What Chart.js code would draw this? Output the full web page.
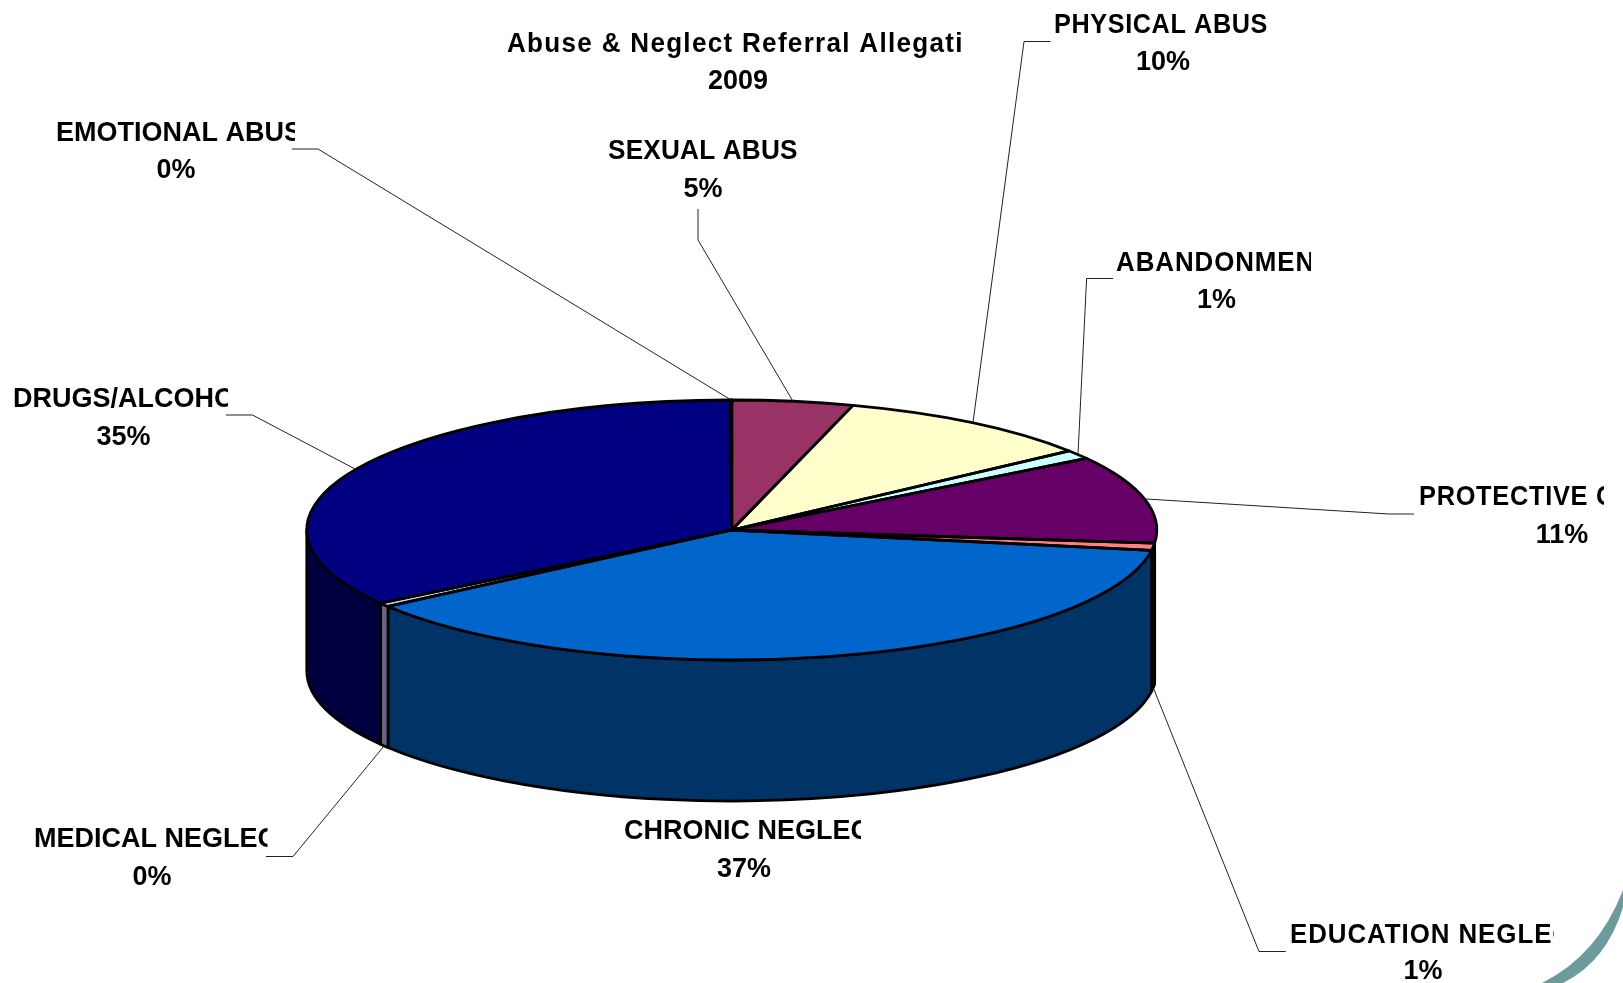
<!DOCTYPE html>
<html><head><meta charset="utf-8">
<style>html,body{margin:0;padding:0;background:#fff;overflow:hidden}#w{position:relative;width:1623px;height:983px}</style>
<script src="https://cdn.jsdelivr.net/npm/chart.js@4"></script>
</head><body><div id="w"><canvas id="c" width="1623" height="983"></canvas></div>
<script>
const categories = ['SEXUAL ABUSE','PHYSICAL ABUSE','ABANDONMENT','PROTECTIVE CUSTODY','EDUCATION NEGLECT','CHRONIC NEGLECT','MEDICAL NEGLECT','DRUGS/ALCOHOL','EMOTIONAL ABUSE'];
const values = [4.6,10.0,1.1,10.9,0.9,37.49,0.49,34.46,0.05];
const percentLabels = ['5%','10%','1%','11%','1%','37%','0%','35%','0%'];
const topColors = ['#993366','#FFFFCC','#CCFFFF','#660066','#FF8080','#0066CC','#CCCCFF','#000080','#9999FF'];
const wallColors = ['#4D1A33','#808066','#668080','#330033','#400020','#003366','#666680','#000040','#4D4D80'];
const titleLines = ['Abuse & Neglect Referral Allegations','2009'];

// Projection of the flat pie into the tilted ellipse
const view = {cx:731.8, cy:530, rx:425, ry:130, depth:141};
// Text boxes: left, clip right, name baseline, percent centre x, percent baseline, x-squeeze, spacing, leader elbow points
const labelBoxes = [
 {l:608,r:797,y:159,pc:703,py:197,sx:0.935,ls:0.2,lead:[[698,209],[698,240]]},
 {l:1054,r:1267,y:33,pc:1163,py:70,sx:0.9,ls:0.7,lead:[[1050.5,41.5],[1024,41.5]]},
 {l:1116,r:1311,y:271,pc:1216.5,py:308,sx:0.925,ls:1,lead:[[1113,278.5],[1086.6,278.5]]},
 {l:1419,r:1604,y:505,pc:1562,py:543,sx:0.905,ls:0.8,lead:[[1414,514],[1389,514]]},
 {l:1290,r:1554,y:943,pc:1423,py:979,sx:0.925,ls:1,lead:[[1285.7,951.5],[1259,951.5]]},
 {l:624,r:861,y:839,pc:744,py:877,sx:0.964,ls:0,lead:null},
 {l:34,r:267.5,y:847,pc:152,py:885,sx:0.964,ls:0,lead:[[266,856.5],[293,856.5]]},
 {l:13,r:228,y:407,pc:123.5,py:445,sx:0.964,ls:0,lead:[[226,415],[252.5,415]]},
 {l:56,r:295,y:141,pc:176,py:178,sx:0.964,ls:0,lead:[[292,149],[318,149]]}
];
const FONT='bold 28px "Liberation Sans", Arial, sans-serif';

function sector(ctx,a0,a1,dy){
  ctx.beginPath();
  ctx.moveTo(view.cx,view.cy+dy);
  ctx.ellipse(view.cx,view.cy+dy,view.rx,view.ry,0,a0,a1);
  ctx.closePath();
}
function wallPath(ctx,a0,a1){
  ctx.beginPath();
  ctx.ellipse(view.cx,view.cy,view.rx,view.ry,0,a0,a1);
  ctx.ellipse(view.cx,view.cy+view.depth,view.rx,view.ry,0,a1,a0,true);
  ctx.closePath();
}
const tau=Math.PI*2;
function frontPart(a0,a1){ // clip an arc span to the visible front half [0,PI]
  const k=Math.floor(a0/tau);
  a0-=k*tau; a1-=k*tau;
  const s=Math.max(a0,0), e=Math.min(a1,Math.PI);
  return e>s?[s,e]:null;
}
function squeezed(ctx,text,x,y,sx,align){
  ctx.save();
  ctx.translate(x,y); ctx.scale(sx,1);
  ctx.textAlign=align;
  ctx.fillText(text,0,0);
  ctx.restore();
}
const pie3d={
  id:'pie3d',
  beforeDatasetsDraw(chart){
    const ctx=chart.ctx, arcs=chart.getDatasetMeta(0).data;
    // side walls under the top face
    ctx.save();
    ctx.lineWidth=2.8; ctx.strokeStyle='#000'; ctx.lineJoin='round';
    arcs.forEach((a,i)=>{
      const p=frontPart(a.startAngle,a.endAngle);
      if(!p) return;
      wallPath(ctx,p[0],p[1]);
      ctx.fillStyle=wallColors[i]; ctx.fill(); ctx.stroke();
    });
    ctx.restore();
    // the library then fills the top face through this projection
    const a=arcs[0];
    ctx.save();
    ctx.translate(view.cx,view.cy);
    ctx.scale(view.rx/a.outerRadius,view.ry/a.outerRadius);
    ctx.translate(-a.x,-a.y);
  },
  afterDatasetsDraw(chart){
    const ctx=chart.ctx, arcs=chart.getDatasetMeta(0).data;
    ctx.restore();
    ctx.save();
    ctx.lineWidth=2.8; ctx.strokeStyle='#000'; ctx.lineJoin='round';
    arcs.forEach(a=>{ sector(ctx,a.startAngle,a.endAngle,0); ctx.stroke(); });
    ctx.restore();
    // leaders run from the middle of each slice
    ctx.save();
    ctx.strokeStyle='#222'; ctx.lineWidth=1;
    arcs.forEach((a,i)=>{
      const b=labelBoxes[i];
      if(!b.lead) return;
      const m=(a.startAngle+a.endAngle)/2;
      const sinM=Math.sin(m);
      const x=view.cx+view.rx*Math.cos(m);
      const y=view.cy+view.ry*sinM+(sinM>0?view.depth:0);
      ctx.beginPath();
      ctx.moveTo(b.lead[0][0],b.lead[0][1]);
      ctx.lineTo(b.lead[1][0],b.lead[1][1]);
      ctx.lineTo(x,y);
      ctx.stroke();
    });
    ctx.restore();
  },
  afterDraw(chart){
    const ctx=chart.ctx;
    ctx.save();
    ctx.fillStyle='#000'; ctx.font=FONT; ctx.textBaseline='alphabetic';
    categories.forEach((name,i)=>{
      const b=labelBoxes[i];
      ctx.save();
      ctx.beginPath(); ctx.rect(b.l-2,b.y-30,b.r-b.l+2,42); ctx.clip();
      ctx.letterSpacing=b.ls+'px';
      squeezed(ctx,name,b.l,b.y,b.sx,'left');
      ctx.restore();
      squeezed(ctx,percentLabels[i],b.pc,b.py,0.964,'center');
    });
    // title
    ctx.save();
    ctx.beginPath(); ctx.rect(505,20,459,45); ctx.clip();
    ctx.letterSpacing='1.4px';
    squeezed(ctx,titleLines[0],507,52,0.93,'left');
    ctx.restore();
    squeezed(ctx,titleLines[1],738,89,0.964,'center');
    ctx.restore();
    // slide decoration in the corner
    ctx.save();
    ctx.fillStyle='#6A9C9C';
    ctx.beginPath();
    ctx.moveTo(1623,890);
    ctx.quadraticCurveTo(1598,955,1542,983);
    ctx.lineTo(1563,983);
    ctx.quadraticCurveTo(1607,961,1623,907);
    ctx.closePath(); ctx.fill();
    ctx.restore();
  }
};
new Chart(document.getElementById('c'),{
  type:'pie',
  data:{labels:categories,datasets:[{data:values,backgroundColor:topColors,borderWidth:0,hoverOffset:0,clip:false}]},
  options:{
    responsive:false,animation:false,devicePixelRatio:1,
    layout:{padding:{left:306.8,right:466.2,top:66.5,bottom:66.5}},
    plugins:{legend:{display:false},tooltip:{enabled:false},title:{display:false}}
  },
  plugins:[pie3d]
});
</script></body></html>
